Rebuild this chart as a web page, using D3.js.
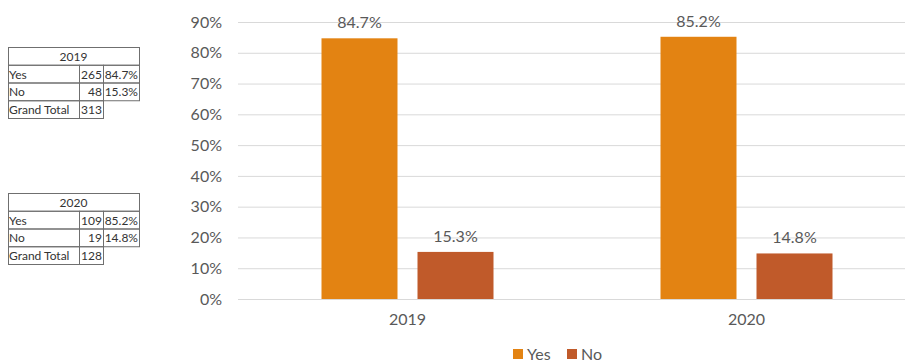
<!DOCTYPE html>
<html>
<head>
<meta charset="utf-8">
<script src="https://cdn.jsdelivr.net/npm/d3@7"></script>
<style>
  html, body { margin: 0; padding: 0; background: #fff; }
  svg { display: block; }
</style>
</head>
<body>
<svg id="chart" width="915" height="364"></svg>
<script>
// Survey response shares by year
const years = ["2019", "2020"];
const seriesNames = ["Yes", "No"];
const yesPct = [84.7, 85.2];
const noPct = [15.3, 14.8];
const yTicks = [0, 10, 20, 30, 40, 50, 60, 70, 80, 90];

// Pivot summary tables shown beside the chart
const yesCounts = [265, 109];
const noCounts = [48, 19];
const grandTotals = [313, 128];

const colors = { Yes: "#E38312", No: "#C05A2A" };
const textColor = "#595959";
const font = "Lato, 'Open Sans', sans-serif";

const svg = d3.select("#chart");

const plot = { left: 238, right: 916, top: 22, bottom: 299 };

const x0 = d3.scaleBand().domain(years).range([plot.left, plot.right]).paddingInner(0).paddingOuter(0);
const x1 = d3.scaleBand().domain(seriesNames).range([83.5, x0.bandwidth() - 83.5]).paddingInner(20 / 96);
const y = d3.scaleLinear().domain([0, 90]).range([plot.bottom, plot.top]);

// Gridlines
svg.append("g")
  .selectAll("line")
  .data(yTicks)
  .join("line")
  .attr("x1", plot.left)
  .attr("x2", 905)
  .attr("y1", d => y(d) + 0.5)
  .attr("y2", d => y(d) + 0.5)
  .attr("stroke", "#d9d9d9")
  .attr("stroke-width", 1);

// Y axis labels
const yAxis = d3.axisLeft(y).tickValues(yTicks).tickFormat(d => d + "%").tickSize(0).tickPadding(0);
const yg = svg.append("g").attr("transform", `translate(222,0)`).call(yAxis);
yg.select(".domain").remove();
yg.selectAll("text")
  .attr("fill", textColor)
  .style("font-family", font)
  .style("font-size", "16px");

// X axis labels
const xAxis = d3.axisBottom(x0).tickSize(0).tickPadding(0);
const xg = svg.append("g").attr("transform", `translate(0,${plot.bottom + 15})`).call(xAxis);
xg.select(".domain").remove();
xg.selectAll("text")
  .attr("fill", textColor)
  .style("font-family", font)
  .style("font-size", "16px");

// Bars
const rows = years.map((yr, i) => ({ year: yr, values: [
  { key: "Yes", value: yesPct[i] },
  { key: "No", value: noPct[i] }
]}));

const groups = svg.append("g")
  .selectAll("g")
  .data(rows)
  .join("g")
  .attr("transform", d => `translate(${x0(d.year)},0)`);

groups.selectAll("rect")
  .data(d => d.values)
  .join("rect")
  .attr("x", d => x1(d.key))
  .attr("width", x1.bandwidth())
  .attr("y", d => y(d.value))
  .attr("height", d => y(0) - y(d.value))
  .attr("fill", d => colors[d.key]);

groups.selectAll("text")
  .data(d => d.values)
  .join("text")
  .attr("x", d => x1(d.key) + x1.bandwidth() / 2)
  .attr("y", d => y(d.value) - 10)
  .attr("text-anchor", "middle")
  .attr("fill", textColor)
  .style("font-family", font)
  .style("font-size", "16px")
  .text(d => d.value.toFixed(1) + "%");

// Legend
const legend = svg.append("g").attr("transform", "translate(513,349)");
const legendItems = [{ key: "Yes", x: 0 }, { key: "No", x: 54 }];
legendItems.forEach(item => {
  const g = legend.append("g").attr("transform", `translate(${item.x},0)`);
  g.append("rect").attr("width", 10).attr("height", 10).attr("fill", colors[item.key]);
  g.append("text")
    .attr("x", 14)
    .attr("y", 11)
    .attr("fill", textColor)
    .style("font-family", font)
    .style("font-size", "16px")
    .text(item.key);
});

// Summary tables
const tableTops = [47, 193];
const colX = [8, 79, 103, 139];
const rowH = 17.75;
const tf = "Lato, sans-serif";
const tfs = "12px";
const stroke = "#6f6f6f";
const cellText = "#333";

years.forEach((yr, i) => {
  const t = svg.append("g").attr("transform", `translate(0,${tableTops[i]})`);
  const total = grandTotals[i];
  const cells = [
    { label: "Yes", count: yesCounts[i], pct: yesPct[i] },
    { label: "No", count: noCounts[i], pct: noPct[i] }
  ];
  const addText = (x, yy, anchor, txt) => t.append("text")
    .attr("x", x).attr("y", yy).attr("text-anchor", anchor)
    .attr("fill", cellText).style("font-family", tf).style("font-size", tfs).text(txt);
  const addCell = (a, b, yy) => t.append("rect").attr("x", colX[a] + 0.5).attr("y", yy + 0.5)
    .attr("width", colX[b] - colX[a]).attr("height", rowH)
    .attr("fill", "none").attr("stroke", stroke);

  // header row
  addCell(0, 3, 0);
  addText((colX[0] + colX[3]) / 2, rowH / 2 + 5, "middle", yr);
  // data rows
  cells.forEach((c, r) => {
    const ry = rowH * (r + 1);
    addCell(0, 1, ry); addCell(1, 2, ry); addCell(2, 3, ry);
    addText(colX[0] + 1, ry + rowH / 2 + 5, "start", c.label);
    addText(colX[2] - 1, ry + rowH / 2 + 5, "end", c.count);
    addText(colX[3] - 1, ry + rowH / 2 + 5, "end", c.pct.toFixed(1) + "%");
  });
  // grand total row
  const gy = rowH * 3;
  addCell(0, 1, gy); addCell(1, 2, gy);
  addText(colX[0] + 1, gy + rowH / 2 + 5, "start", "Grand Total");
  addText(colX[1] + 2, gy + rowH / 2 + 5, "start", total);
});
</script>
</body>
</html>
